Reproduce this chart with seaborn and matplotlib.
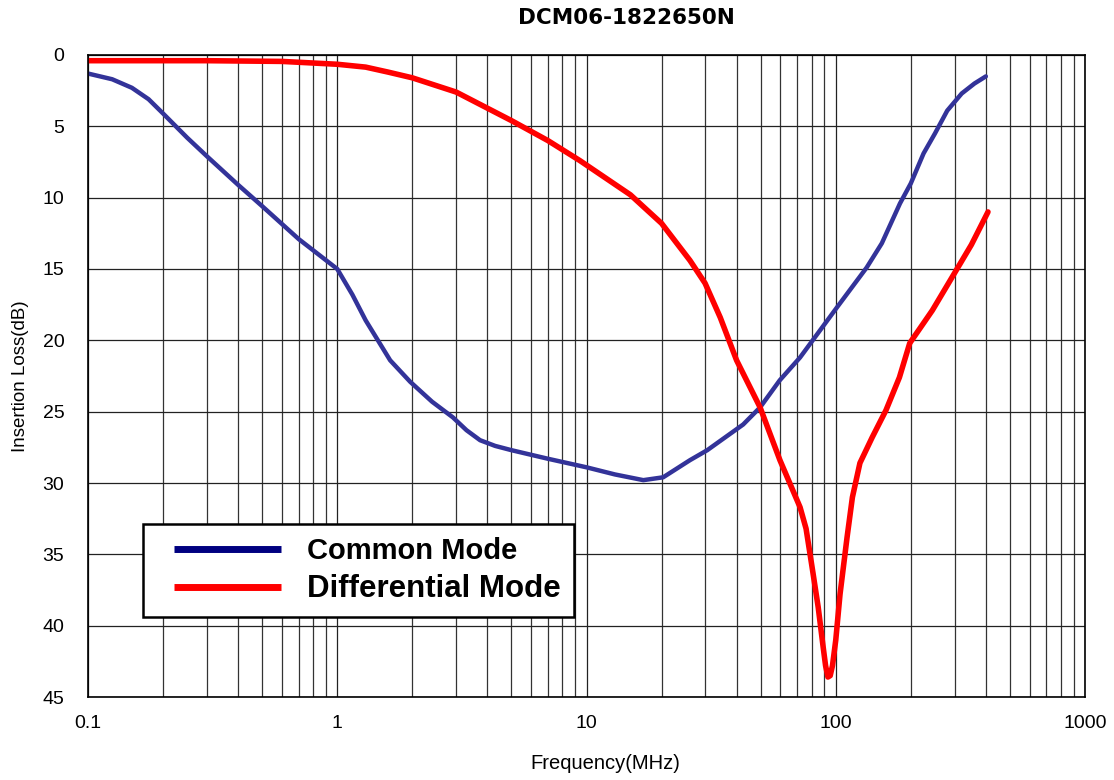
import numpy as np
import pandas as pd
import matplotlib
matplotlib.use("Agg")
import matplotlib.pyplot as plt
import seaborn as sns
from matplotlib.lines import Line2D
from matplotlib.legend_handler import HandlerBase
from matplotlib.ticker import FixedLocator, LogLocator, NullFormatter

# Common mode curve (frequency in MHz, insertion loss in dB)
cm_freq = [0.1, 0.125, 0.15, 0.175, 0.2, 0.25, 0.3, 0.4, 0.5, 0.7, 1.0, 1.15, 1.3, 1.63,
           1.96, 2.4, 2.91, 3.3, 3.74, 4.3, 5.0, 7.0, 10, 13, 16.9, 20.3, 26, 30.5, 36,
           42.5, 49.7, 59.6, 71.9, 101, 133, 153, 181, 200, 225, 250, 280, 320, 360, 400]
cm_loss = [1.3, 1.7, 2.3, 3.1, 4.1, 5.8, 7.1, 9.1, 10.6, 12.9, 15.0, 16.8, 18.6, 21.4,
           22.9, 24.3, 25.4, 26.3, 27.0, 27.4, 27.7, 28.3, 28.9, 29.4, 29.8, 29.6, 28.4,
           27.7, 26.8, 25.9, 24.7, 22.8, 21.2, 17.7, 14.9, 13.2, 10.4, 9.0, 6.9, 5.5,
           3.9, 2.7, 2.0, 1.5]

# Differential mode curve
dm_freq = [0.1, 0.3, 0.6, 1.0, 1.3, 1.6, 2.0, 3.0, 5.0, 7.0, 9.4, 15, 20, 26, 29.9, 34.4,
           40, 49.7, 59.7, 71.9, 76, 81, 85, 89, 91, 93, 95, 97, 100, 104, 111, 116.6, 125,
           140, 159, 180, 198, 244, 304, 350, 408]
dm_loss = [0.4, 0.4, 0.45, 0.65, 0.85, 1.2, 1.6, 2.6, 4.6, 6.0, 7.4, 9.8, 11.8, 14.4, 16.0,
           18.4, 21.4, 24.7, 28.4, 31.7, 33.2, 36.3, 38.7, 41.5, 42.8, 43.6, 43.5, 42.8,
           41.0, 37.8, 33.8, 31.0, 28.6, 26.8, 24.9, 22.6, 20.2, 17.9, 15.1, 13.3, 11.0]

x_ticks = [0.1, 1, 10, 100, 1000]
x_labels = ["0.1", "1", "10", "100", "1000"]
y_ticks = [0, 5, 10, 15, 20, 25, 30, 35, 40, 45]

cm = pd.DataFrame({"freq": cm_freq, "loss": cm_loss})
dm = pd.DataFrame({"freq": dm_freq, "loss": dm_loss})

sns.set_style("white")
plt.rcParams["font.family"] = ["Liberation Sans", "DejaVu Sans"]
plt.rcParams["text.color"] = "black"
plt.rcParams["axes.labelcolor"] = "black"
plt.rcParams["xtick.color"] = "black"
plt.rcParams["ytick.color"] = "black"


class InsetLine(HandlerBase):
    # legend line that leaves some blank space on its left
    def create_artists(self, legend, orig, xdescent, ydescent, width, height, fontsize, trans):
        y = height / 2 - ydescent
        x0 = -xdescent + 0.144 * width
        line = Line2D([x0, width - xdescent], [y, y], color=orig.get_color(),
                      linewidth=orig.get_linewidth(), solid_capstyle="butt")
        line.set_transform(trans)
        return [line]


fig = plt.figure(figsize=(11.14, 7.8), dpi=100)
ax = fig.add_axes([0.079, 0.1064, 0.895, 0.8231])

sns.lineplot(data=cm, x="freq", y="loss", ax=ax, color="#333399", linewidth=3.2, sort=False)
sns.lineplot(data=dm, x="freq", y="loss", ax=ax, color="#ff0000", linewidth=4.0, sort=False)

ax.set_xscale("log")
ax.set_xlim(0.1, 1000)
ax.set_ylim(45, 0)

ax.xaxis.set_major_locator(FixedLocator(x_ticks))
ax.set_xticklabels(x_labels, fontsize=14)
ax.xaxis.set_minor_locator(LogLocator(base=10, subs=np.arange(2, 10)))
ax.xaxis.set_minor_formatter(NullFormatter())
ax.set_yticks(y_ticks)
ax.set_yticklabels([str(v) for v in y_ticks], fontsize=14)

ax.grid(True, which="major", axis="both", color="#222222", linewidth=0.9)
ax.grid(True, which="minor", axis="x", color="#333333", linewidth=0.9)
ax.tick_params(axis="x", which="both", length=0, pad=13)
ax.tick_params(axis="y", which="both", length=0, pad=17)
for s in ax.spines.values():
    s.set_color("black")
    s.set_linewidth(1.2)

ax.set_xlabel("Frequency(MHz)", fontsize=14.5)
ax.set_ylabel("Insertion Loss(dB)", fontsize=13.5)
ax.xaxis.set_label_coords(0.519, -(754 - 697) / 642)
ax.yaxis.set_label_coords(-(88 - 29) / 997, 0.5)

fig.text(626 / 1114, 1 - 18 / 780, "DCM06-1822650N", ha="center", va="center",
         fontsize=15.5, fontweight="bold", family=["DejaVu Sans"])

handles = [Line2D([], [], color="#000080", linewidth=5),
           Line2D([], [], color="#ff0000", linewidth=5)]
leg = ax.legend(handles, ["Common Mode", "Differential Mode"], loc="lower left",
                bbox_to_anchor=(0.0552, 0.1246), frameon=True, fancybox=False,
                edgecolor="black", framealpha=1, fontsize=21, handlelength=4.29,
                handletextpad=0.89, borderpad=0.45, labelspacing=0.3, borderaxespad=0,
                handler_map={Line2D: InsetLine()})
leg.get_frame().set_linewidth(1.8)
texts = leg.get_texts()
texts[0].set_fontweight("bold")
texts[1].set_fontsize(22.5)
texts[1].set_fontweight("bold")

fig.savefig("out.png", dpi=100)
